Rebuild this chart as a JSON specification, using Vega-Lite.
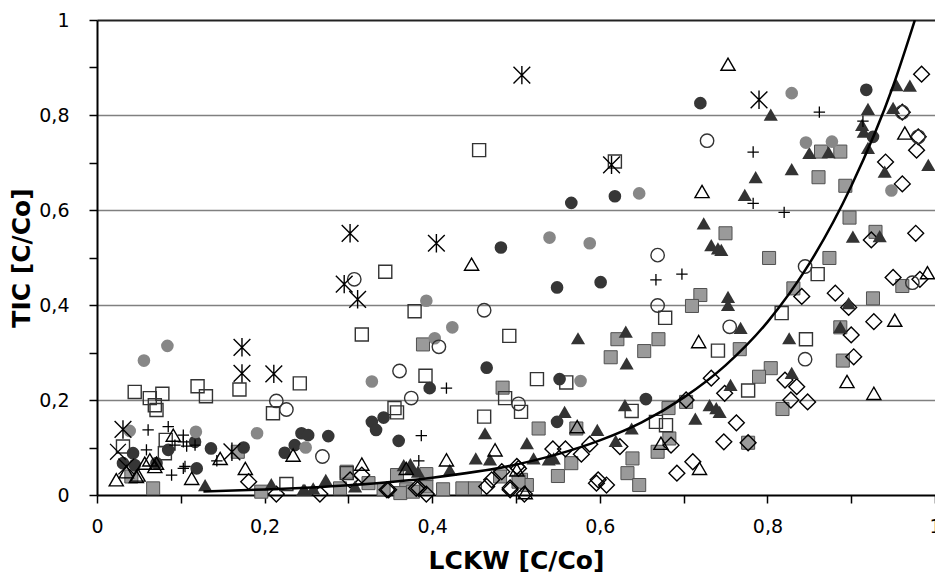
{
  "$schema": "https://vega.github.io/schema/vega-lite/v6.json",
  "width": 838,
  "height": 475,
  "autosize": {"type": "none"},
  "padding": {"left": 97, "top": 20, "right": 0, "bottom": 85},
  "background": "white",
  "config": {"view": {"stroke": null}},
  "datasets": {
    "graySquare": [
      {"x":0.750,"y":0.551},{"x":0.864,"y":0.723},{"x":0.887,"y":0.723},{"x":0.861,"y":0.669},{"x":0.893,"y":0.651},{"x":0.898,"y":0.584},{"x":0.929,"y":0.554},{"x":0.802,"y":0.499},{"x":0.874,"y":0.499},{"x":0.831,"y":0.435},{"x":0.926,"y":0.414},{"x":0.961,"y":0.440},{"x":0.887,"y":0.353},{"x":0.767,"y":0.307},{"x":0.890,"y":0.283},{"x":0.804,"y":0.267},{"x":0.790,"y":0.249},{"x":0.818,"y":0.181},{"x":0.777,"y":0.110},{"x":0.720,"y":0.421},{"x":0.710,"y":0.398},{"x":0.621,"y":0.328},{"x":0.670,"y":0.328},{"x":0.653,"y":0.303},{"x":0.613,"y":0.290},{"x":0.527,"y":0.140},{"x":0.572,"y":0.140},{"x":0.682,"y":0.183},{"x":0.703,"y":0.196},{"x":0.683,"y":0.119},{"x":0.669,"y":0.091},{"x":0.639,"y":0.077},{"x":0.566,"y":0.067},{"x":0.550,"y":0.040},{"x":0.633,"y":0.046},{"x":0.647,"y":0.021},{"x":0.506,"y":0.032},{"x":0.513,"y":0.021},{"x":0.484,"y":0.226},{"x":0.389,"y":0.317},{"x":0.298,"y":0.049},{"x":0.290,"y":0.014},{"x":0.324,"y":0.025},{"x":0.342,"y":0.012},{"x":0.369,"y":0.012},{"x":0.393,"y":0.018},{"x":0.413,"y":0.012},{"x":0.436,"y":0.014},{"x":0.451,"y":0.014},{"x":0.481,"y":0.039},{"x":0.503,"y":0.028},{"x":0.393,"y":0.044},{"x":0.196,"y":0.007},{"x":0.358,"y":0.042},{"x":0.362,"y":0.004},{"x":0.377,"y":0.007},{"x":0.067,"y":0.014},{"x":0.168,"y":0.091},{"x":0.041,"y":0.039}
    ],
    "openDiamond": [
      {"x":0.984,"y":0.886},{"x":0.961,"y":0.806},{"x":0.978,"y":0.726},{"x":0.980,"y":0.754},{"x":0.941,"y":0.701},{"x":0.961,"y":0.655},{"x":0.924,"y":0.537},{"x":0.977,"y":0.551},{"x":0.950,"y":0.458},{"x":0.982,"y":0.454},{"x":0.881,"y":0.425},{"x":0.841,"y":0.418},{"x":0.897,"y":0.395},{"x":0.927,"y":0.365},{"x":0.900,"y":0.337},{"x":0.903,"y":0.291},{"x":0.821,"y":0.242},{"x":0.835,"y":0.228},{"x":0.828,"y":0.200},{"x":0.848,"y":0.196},{"x":0.749,"y":0.214},{"x":0.763,"y":0.152},{"x":0.748,"y":0.112},{"x":0.777,"y":0.110},{"x":0.733,"y":0.246},{"x":0.703,"y":0.200},{"x":0.711,"y":0.070},{"x":0.692,"y":0.046},{"x":0.685,"y":0.105},{"x":0.624,"y":0.102},{"x":0.588,"y":0.107},{"x":0.578,"y":0.086},{"x":0.559,"y":0.097},{"x":0.544,"y":0.097},{"x":0.503,"y":0.056},{"x":0.598,"y":0.032},{"x":0.608,"y":0.021},{"x":0.596,"y":0.025},{"x":0.493,"y":0.015},{"x":0.510,"y":0.002},{"x":0.302,"y":0.032},{"x":0.348,"y":0.011},{"x":0.384,"y":0.014},{"x":0.393,"y":0.002},{"x":0.471,"y":0.032},{"x":0.483,"y":0.049},{"x":0.493,"y":0.011},{"x":0.465,"y":0.018},{"x":0.501,"y":0.060},{"x":0.181,"y":0.028},{"x":0.214,"y":0.002},{"x":0.266,"y":0.002},{"x":0.316,"y":0.042},{"x":0.346,"y":0.011},{"x":0.381,"y":0.014}
    ],
    "darkTriangle": [
      {"x":0.954,"y":0.863},{"x":0.970,"y":0.862},{"x":0.804,"y":0.801},{"x":0.920,"y":0.813},{"x":0.950,"y":0.815},{"x":0.913,"y":0.779},{"x":0.915,"y":0.765},{"x":0.920,"y":0.731},{"x":0.992,"y":0.695},{"x":0.850,"y":0.720},{"x":0.873,"y":0.722},{"x":0.829,"y":0.686},{"x":0.940,"y":0.681},{"x":0.786,"y":0.669},{"x":0.773,"y":0.632},{"x":0.934,"y":0.545},{"x":0.902,"y":0.544},{"x":0.745,"y":0.516},{"x":0.724,"y":0.572},{"x":0.733,"y":0.526},{"x":0.741,"y":0.519},{"x":0.753,"y":0.417},{"x":0.753,"y":0.400},{"x":0.768,"y":0.352},{"x":0.826,"y":0.330},{"x":0.897,"y":0.404},{"x":0.887,"y":0.354},{"x":0.829,"y":0.257},{"x":0.756,"y":0.232},{"x":0.743,"y":0.175},{"x":0.574,"y":0.330},{"x":0.631,"y":0.344},{"x":0.632,"y":0.277},{"x":0.731,"y":0.189},{"x":0.739,"y":0.183},{"x":0.714,"y":0.161},{"x":0.630,"y":0.189},{"x":0.638,"y":0.140},{"x":0.597,"y":0.137},{"x":0.558,"y":0.175},{"x":0.513,"y":0.109},{"x":0.619,"y":0.114},{"x":0.521,"y":0.077},{"x":0.539,"y":0.075},{"x":0.545,"y":0.077},{"x":0.463,"y":0.130},{"x":0.452,"y":0.077},{"x":0.469,"y":0.075},{"x":0.375,"y":0.056},{"x":0.383,"y":0.049},{"x":0.421,"y":0.053},{"x":0.208,"y":0.023},{"x":0.248,"y":0.011},{"x":0.258,"y":0.014},{"x":0.273,"y":0.032},{"x":0.308,"y":0.018},{"x":0.366,"y":0.063},{"x":0.374,"y":0.065},{"x":0.129,"y":0.021},{"x":0.246,"y":0.011}
    ],
    "darkCircle": [
      {"x":0.918,"y":0.853},{"x":0.720,"y":0.825},{"x":0.926,"y":0.754},{"x":0.566,"y":0.615},{"x":0.618,"y":0.629},{"x":0.482,"y":0.521},{"x":0.549,"y":0.437},{"x":0.601,"y":0.448},{"x":0.465,"y":0.268},{"x":0.397,"y":0.225},{"x":0.552,"y":0.244},{"x":0.655,"y":0.202},{"x":0.549,"y":0.154},{"x":0.328,"y":0.154},{"x":0.342,"y":0.163},{"x":0.333,"y":0.137},{"x":0.360,"y":0.114},{"x":0.244,"y":0.130},{"x":0.252,"y":0.126},{"x":0.276,"y":0.124},{"x":0.236,"y":0.105},{"x":0.224,"y":0.089},{"x":0.175,"y":0.100},{"x":0.117,"y":0.112},{"x":0.136,"y":0.098},{"x":0.043,"y":0.088},{"x":0.085,"y":0.095},{"x":0.031,"y":0.067},{"x":0.045,"y":0.063},{"x":0.071,"y":0.067},{"x":0.119,"y":0.056}
    ],
    "openSquare": [
      {"x":0.456,"y":0.726},{"x":0.618,"y":0.702},{"x":0.344,"y":0.470},{"x":0.379,"y":0.387},{"x":0.316,"y":0.338},{"x":0.492,"y":0.335},{"x":0.392,"y":0.251},{"x":0.242,"y":0.235},{"x":0.487,"y":0.204},{"x":0.355,"y":0.183},{"x":0.358,"y":0.174},{"x":0.462,"y":0.165},{"x":0.226,"y":0.023},{"x":0.298,"y":0.046},{"x":0.045,"y":0.217},{"x":0.063,"y":0.204},{"x":0.078,"y":0.213},{"x":0.069,"y":0.189},{"x":0.120,"y":0.229},{"x":0.130,"y":0.208},{"x":0.170,"y":0.222},{"x":0.210,"y":0.172},{"x":0.031,"y":0.102},{"x":0.082,"y":0.116},{"x":0.081,"y":0.088},{"x":0.678,"y":0.373},{"x":0.741,"y":0.304},{"x":0.525,"y":0.244},{"x":0.560,"y":0.237},{"x":0.506,"y":0.175},{"x":0.638,"y":0.177},{"x":0.667,"y":0.154},{"x":0.679,"y":0.147},{"x":0.860,"y":0.465},{"x":0.817,"y":0.383},{"x":0.846,"y":0.328},{"x":0.777,"y":0.220},{"x":0.071,"y":0.179}
    ],
    "grayCircle": [
      {"x":0.829,"y":0.846},{"x":0.846,"y":0.742},{"x":0.877,"y":0.744},{"x":0.948,"y":0.641},{"x":0.647,"y":0.635},{"x":0.540,"y":0.542},{"x":0.588,"y":0.530},{"x":0.393,"y":0.409},{"x":0.424,"y":0.353},{"x":0.403,"y":0.330},{"x":0.328,"y":0.239},{"x":0.577,"y":0.240},{"x":0.249,"y":0.100},{"x":0.191,"y":0.130},{"x":0.056,"y":0.283},{"x":0.084,"y":0.314},{"x":0.039,"y":0.135},{"x":0.118,"y":0.133}
    ],
    "openCircle": [
      {"x":0.961,"y":0.806},{"x":0.980,"y":0.754},{"x":0.728,"y":0.746},{"x":0.669,"y":0.505},{"x":0.462,"y":0.389},{"x":0.307,"y":0.454},{"x":0.408,"y":0.312},{"x":0.361,"y":0.261},{"x":0.375,"y":0.204},{"x":0.503,"y":0.192},{"x":0.269,"y":0.081},{"x":0.214,"y":0.198},{"x":0.226,"y":0.180},{"x":0.669,"y":0.399},{"x":0.755,"y":0.354},{"x":0.845,"y":0.481},{"x":0.845,"y":0.286},{"x":0.973,"y":0.447}
    ],
    "openTriangle": [
      {"x":0.753,"y":0.907},{"x":0.722,"y":0.639},{"x":0.447,"y":0.486},{"x":0.964,"y":0.762},{"x":0.718,"y":0.323},{"x":0.573,"y":0.144},{"x":0.673,"y":0.109},{"x":0.719,"y":0.056},{"x":0.501,"y":0.053},{"x":0.511,"y":0.005},{"x":0.991,"y":0.468},{"x":0.952,"y":0.368},{"x":0.895,"y":0.239},{"x":0.927,"y":0.214},{"x":0.475,"y":0.095},{"x":0.417,"y":0.074},{"x":0.316,"y":0.065},{"x":0.369,"y":0.056},{"x":0.234,"y":0.084},{"x":0.177,"y":0.056},{"x":0.147,"y":0.077},{"x":0.091,"y":0.126},{"x":0.023,"y":0.032},{"x":0.035,"y":0.049},{"x":0.049,"y":0.042},{"x":0.063,"y":0.074},{"x":0.069,"y":0.060},{"x":0.113,"y":0.035},{"x":0.047,"y":0.039},{"x":0.071,"y":0.067},{"x":0.057,"y":0.067}
    ],
    "asterisk": [
      {"x":0.507,"y":0.884},{"x":0.614,"y":0.695},{"x":0.790,"y":0.832},{"x":0.302,"y":0.551},{"x":0.405,"y":0.530},{"x":0.295,"y":0.444},{"x":0.311,"y":0.412},{"x":0.173,"y":0.311},{"x":0.173,"y":0.256},{"x":0.211,"y":0.255},{"x":0.031,"y":0.138},{"x":0.161,"y":0.091}
    ],
    "plus": [
      {"x":0.862,"y":0.806},{"x":0.783,"y":0.722},{"x":0.914,"y":0.787},{"x":0.783,"y":0.614},{"x":0.820,"y":0.595},{"x":0.667,"y":0.453},{"x":0.698,"y":0.465},{"x":0.417,"y":0.225},{"x":0.387,"y":0.125},{"x":0.384,"y":0.072},{"x":0.061,"y":0.137},{"x":0.085,"y":0.144},{"x":0.103,"y":0.126},{"x":0.103,"y":0.112},{"x":0.093,"y":0.105},{"x":0.117,"y":0.105},{"x":0.103,"y":0.056},{"x":0.089,"y":0.042},{"x":0.107,"y":0.103},{"x":0.105,"y":0.060},{"x":0.143,"y":0.072},{"x":0.059,"y":0.095}
    ],
    "cross": [
      {"x":0.025,"y":0.091},{"x":0.035,"y":0.060}
    ],
    "curve": [
      {"x":0.127,"y":0.0076},{"x":0.2,"y":0.0115},{"x":0.3,"y":0.0205},{"x":0.4,"y":0.0364},{"x":0.5,"y":0.064},{"x":0.55,"y":0.086},{"x":0.6,"y":0.115},{"x":0.65,"y":0.153},{"x":0.7,"y":0.205},{"x":0.75,"y":0.273},{"x":0.8,"y":0.364},{"x":0.85,"y":0.487},{"x":0.9,"y":0.65},{"x":0.95,"y":0.861},{"x":0.976,"y":1.0}
    ]
  },
  "encoding": {
    "x": {
      "field": "x", "type": "quantitative",
      "scale": {"domain": [0, 1], "nice": false, "zero": false},
      "axis": {
        "title": "LCKW [C/Co]",
        "values": [0,0.1,0.2,0.3,0.4,0.5,0.6,0.7,0.8,0.9,1],
        "labelExpr": "round(datum.value*10)%2==0 ? replace(format(datum.value, '.1~f'), '.', ',') : ''",
        "grid": false,
        "domainColor": "#000000", "domainWidth": 2,
        "tickColor": "#000000", "tickWidth": 1.5, "tickSize": 8,
        "labelFont": "DejaVu Sans", "labelFontSize": 19, "labelColor": "#000000", "labelPadding": 14,
        "labelFlush": false, "labelOverlap": false,
        "titleFont": "DejaVu Sans", "titleFontSize": 25, "titleFontWeight": "bold", "titleColor": "#000000", "titlePadding": 12
      }
    },
    "y": {
      "field": "y", "type": "quantitative",
      "scale": {"domain": [0, 1], "nice": false, "zero": false},
      "axis": {
        "title": "TIC [C/Co]",
        "values": [0,0.1,0.2,0.3,0.4,0.5,0.6,0.7,0.8,0.9,1],
        "labelExpr": "round(datum.value*10)%2==0 ? replace(format(datum.value, '.1~f'), '.', ',') : ''",
        "grid": true,
        "gridColor": {"condition": {"test": "datum.value > 0.99", "value": "#222222"}, "value": "#808080"},
        "gridWidth": {"condition": {"test": "datum.value > 0.99", "value": 2}, "value": 1.3},
        "gridOpacity": {"condition": {"test": "round(datum.value*10)%2==0 && datum.value > 0.05", "value": 1}, "value": 0},
        "domainColor": "#000000", "domainWidth": 2,
        "tickColor": "#000000", "tickWidth": 1.5, "tickSize": 8,
        "labelFont": "DejaVu Sans", "labelFontSize": 19, "labelColor": "#000000", "labelPadding": 20,
        "labelFlush": false, "labelOverlap": false,
        "titleFont": "DejaVu Sans", "titleFontSize": 25, "titleFontWeight": "bold", "titleColor": "#000000", "titlePadding": 4
      }
    }
  },
  "layer": [
    {"data": {"name": "graySquare"}, "mark": {"type": "point", "shape": "square", "filled": true, "fill": "#9a9a9a", "stroke": "#505050", "strokeWidth": 1, "size": 170, "opacity": 1}},
    {"data": {"name": "openDiamond"}, "mark": {"type": "point", "shape": "diamond", "filled": false, "fill": "transparent", "stroke": "#000000", "strokeWidth": 1.4, "size": 250, "opacity": 1}},
    {"data": {"name": "darkTriangle"}, "mark": {"type": "point", "shape": "triangle-up", "filled": true, "fill": "#333333", "strokeWidth": 0, "size": 200, "opacity": 1}},
    {"data": {"name": "darkCircle"}, "mark": {"type": "point", "shape": "circle", "filled": true, "fill": "#363636", "strokeWidth": 0, "size": 160, "opacity": 1}},
    {"data": {"name": "openSquare"}, "mark": {"type": "point", "shape": "square", "filled": false, "fill": "transparent", "stroke": "#333333", "strokeWidth": 1.4, "size": 170, "opacity": 1}},
    {"data": {"name": "grayCircle"}, "mark": {"type": "point", "shape": "circle", "filled": true, "fill": "#878787", "strokeWidth": 0, "size": 160, "opacity": 1}},
    {"data": {"name": "openCircle"}, "mark": {"type": "point", "shape": "circle", "filled": false, "fill": "transparent", "stroke": "#333333", "strokeWidth": 1.4, "size": 180, "opacity": 1}},
    {"data": {"name": "openTriangle"}, "mark": {"type": "point", "shape": "triangle-up", "filled": false, "fill": "transparent", "stroke": "#000000", "strokeWidth": 1.4, "size": 200, "opacity": 1}},
    {"data": {"name": "asterisk"}, "mark": {"type": "point", "shape": "M-1,-1L1,1M-1,1L1,-1M0,-1.1V1.1", "filled": false, "fill": "transparent", "stroke": "#000000", "strokeWidth": 1.4, "size": 280, "opacity": 1}},
    {"data": {"name": "plus"}, "mark": {"type": "point", "shape": "M-1,0H1M0,-1V1", "filled": false, "fill": "transparent", "stroke": "#000000", "strokeWidth": 1.3, "size": 130, "opacity": 1}},
    {"data": {"name": "cross"}, "mark": {"type": "point", "shape": "M-1,-1L1,1M-1,1L1,-1", "filled": false, "fill": "transparent", "stroke": "#000000", "strokeWidth": 1.3, "size": 250, "opacity": 1}},
    {"data": {"name": "curve"}, "mark": {"type": "line", "color": "#000000", "strokeWidth": 2.5, "interpolate": "monotone", "clip": true}}
  ]
}
